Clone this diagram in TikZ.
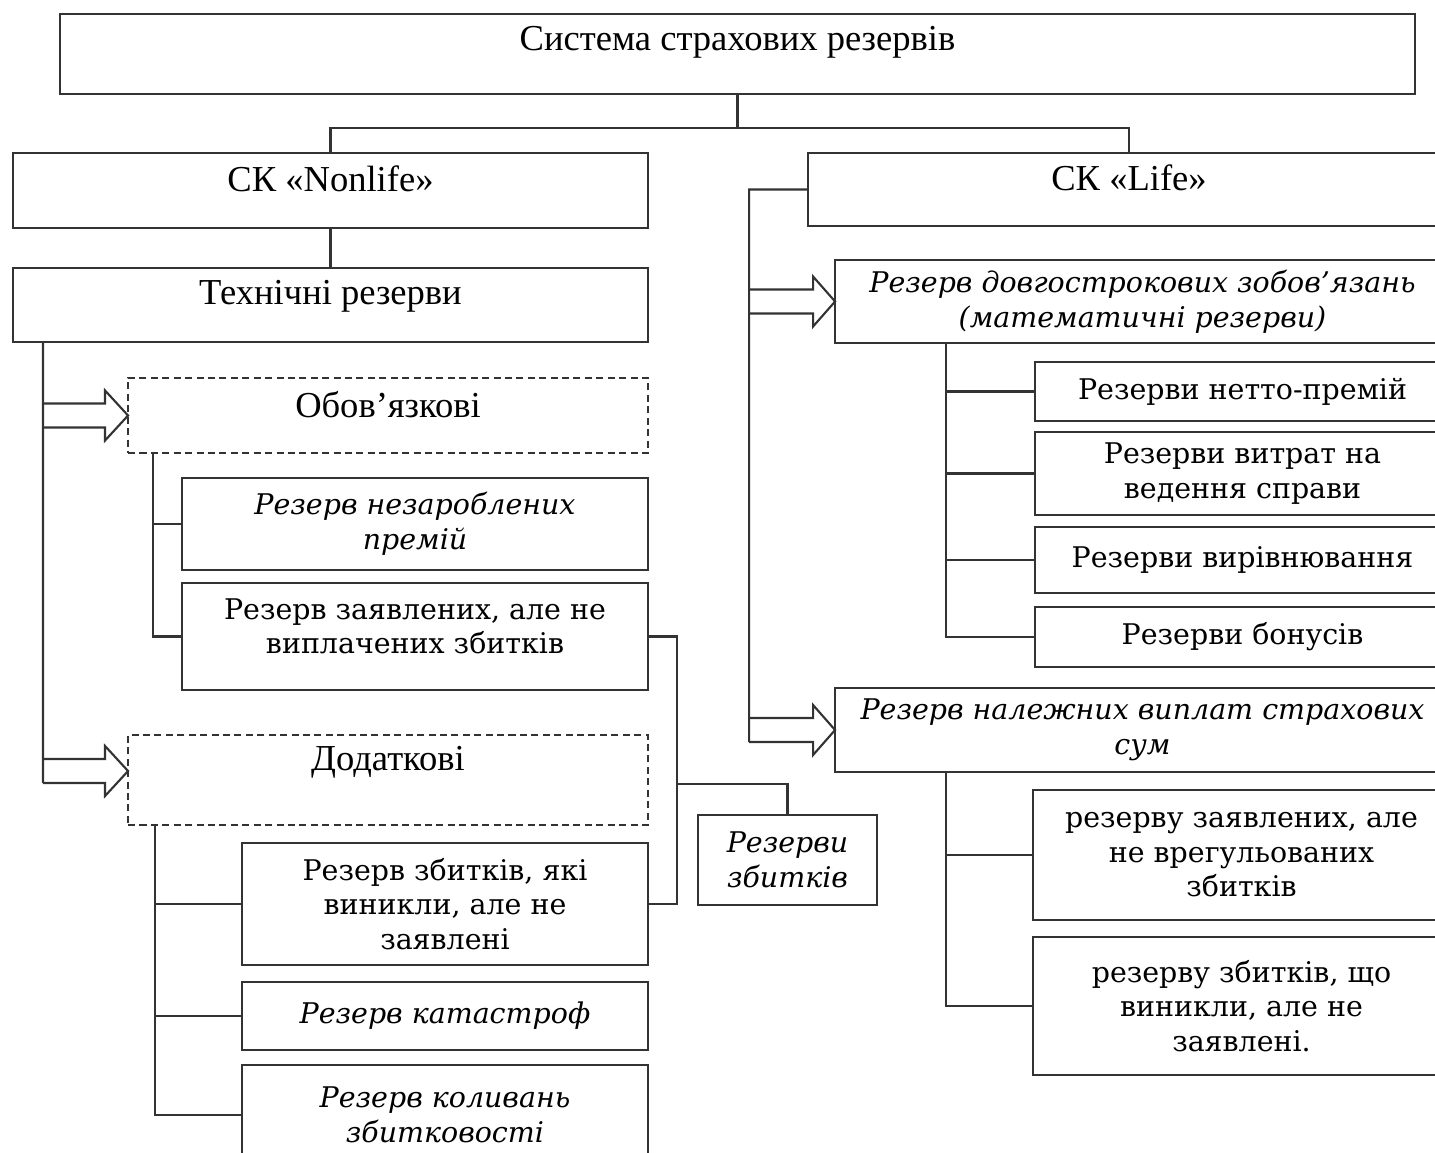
\documentclass[tikz,border=0pt]{standalone}
\usepackage{fontspec}
\setmainfont{Liberation Serif}
\newfontfamily\widefont{DejaVu Serif}
\usetikzlibrary{calc}
\begin{document}
\begin{tikzpicture}[x=0.02cm,y=-0.02cm,
  ln/.style={line width=1.2pt, draw=black!80},
  bx/.style={ln, rectangle, inner sep=2pt, outer sep=0pt, align=center, font=\fontsize{20.8}{25}\selectfont},
  wbx/.style={bx, font=\widefont\fontsize{16.2}{19.6}\selectfont},
  ibx/.style={bx, font=\widefont\itshape\fontsize{16.2}{19.8}\selectfont},
  dbx/.style={bx, dash pattern=on 4pt off 2.5pt},
  lift/.style={text height=14.5pt, text depth=#1},
  sz/.style 2 args={minimum width=#1cm, minimum height=#2cm}]
\useasboundingbox (0,0) rectangle (1435,1152);
\fill[white] (0,0) rectangle (1435,1152);
\clip (0,0) rectangle (1435,1152);

% top level
\node[bx, sz={27.1}{1.6}, lift=18pt] (top) at (737.5,54) {Система страхових резервів};
\node[bx, sz={12.7}{1.5}, lift=13.5pt] (nonlife) at (330.5,190.5) {СК «Nonlife»};
\node[bx, sz={12.84}{1.46}, lift=13.5pt] (life) at (1129,189.5) {СК «Life»};

% Nonlife branch
\node[bx, sz={12.7}{1.48}, lift=14.6pt] (tech) at (330.5,305) {Технічні резерви};
\node[bx, dbx, sz={10.4}{1.5}, lift=12.4pt] (obov) at (388,415.5) {Обов’язкові};
\node[ibx, sz={9.32}{1.84}] (nezar) at (415,524) {Резерв незароблених\\премій};
\node[wbx, sz={9.32}{2.14}, text depth=12pt] (zayav) at (415,636.5) {Резерв заявлених, але не\\виплачених збитків};
\node[bx, dbx, sz={10.4}{1.8}, lift=24.8pt] (dod) at (388,780) {Додаткові};
\node[wbx, sz={8.12}{2.44}] (vyn) at (445,904) {Резерв збитків, які\\виникли, але не\\заявлені};
\node[ibx, sz={8.12}{1.36}] (kat) at (445,1016) {Резерв катастроф};
\node[ibx, sz={8.12}{2.0}] (kol) at (445,1115) {Резерв коливань\\збитковості};
\node[ibx, sz={3.58}{1.8}] (zbyt) at (787.5,860) {Резерви\\збитків};

% Life branch
\node[ibx, sz={12.3}{1.66}] (dovg) at (1142.5,301.5) {Резерв довгострокових зобов’язань\\(математичні резерви)};
\node[wbx, sz={8.3}{1.18}] (netto) at (1242.5,391.5) {Резерви нетто-премій};
\node[wbx, sz={8.3}{1.66}] (vytr) at (1242.5,473.5) {Резерви витрат на\\ведення справи};
\node[wbx, sz={8.3}{1.32}] (vyr) at (1242.5,560) {Резерви вирівнювання};
\node[wbx, sz={8.3}{1.2}] (bon) at (1242.5,637) {Резерви бонусів};
\node[ibx, sz={12.3}{1.68}] (nal) at (1142.5,730) {Резерв належних виплат страхових\\сум};
\node[wbx, sz={8.34}{2.6}] (zv2) at (1241.5,855) {резерву заявлених, але\\не врегульованих\\збитків};
\node[wbx, sz={8.34}{2.76}] (zv3) at (1241.5,1006) {резерву збитків, що\\виникли, але не\\заявлені.};

% top connectors
\draw[ln] (top.south) -- ++(0,34) coordinate (hub);
\draw[ln] (nonlife.north) |- (hub) -| (life.north);
\draw[ln] (nonlife.south) -- (tech.north);

% left arrows
\coordinate (dtip) at ($(dod.west)+(0,-9)$);
\draw[ln] (tech.south west -| 43,0) -- ($(dtip)+(-85,12)$);
\foreach \t in {obov.west, dtip} {
  \draw[ln] ($(\t)+(-85,-12)$) -- ($(\t)+(-23,-12)$) -- ($(\t)+(-23,-25)$) -- (\t)
    -- ($(\t)+(-23,25)$) -- ($(\t)+(-23,12)$) -- ($(\t)+(-85,12)$);
}

% obligatory children
\draw[ln] (obov.south west -| 153,0) |- (zayav.west);
\draw[ln] (nezar.west -| 153,0) -- (nezar.west);

% additional children
\draw[ln] (dod.south west -| 155,0) |- (kol.west);
\draw[ln] (vyn.west -| 155,0) -- (vyn.west);
\draw[ln] (kat.west -| 155,0) -- (kat.west);

% loss reserves bracket
\draw[ln] (zayav.east) -- ++(29,0) coordinate (bk) -- (bk |- vyn.east) -- (vyn.east);
\draw[ln] (bk |- 0,784) -| (zbyt.north);

% right side
\coordinate (ra) at ($(life.west)+(-59,0)$);
\draw[ln] (life.west) -- (ra) -- ($(nal.west)+(-86,12)$);
\foreach \t in {dovg.west, nal.west} {
  \draw[ln] ($(\t)+(-86,-12)$) -- ($(\t)+(-22,-12)$) -- ($(\t)+(-22,-25)$) -- (\t)
    -- ($(\t)+(-22,25)$) -- ($(\t)+(-22,12)$) -- ($(\t)+(-86,12)$);
}
\draw[ln] (dovg.south west -| 946,0) |- (bon.west);
\draw[ln] (netto.west -| 946,0) -- (netto.west);
\draw[ln] (vytr.west -| 946,0) -- (vytr.west);
\draw[ln] (vyr.west -| 946,0) -- (vyr.west);
\draw[ln] (nal.south west -| 946,0) |- (zv3.west);
\draw[ln] (zv2.west -| 946,0) -- (zv2.west);
\end{tikzpicture}
\end{document}
